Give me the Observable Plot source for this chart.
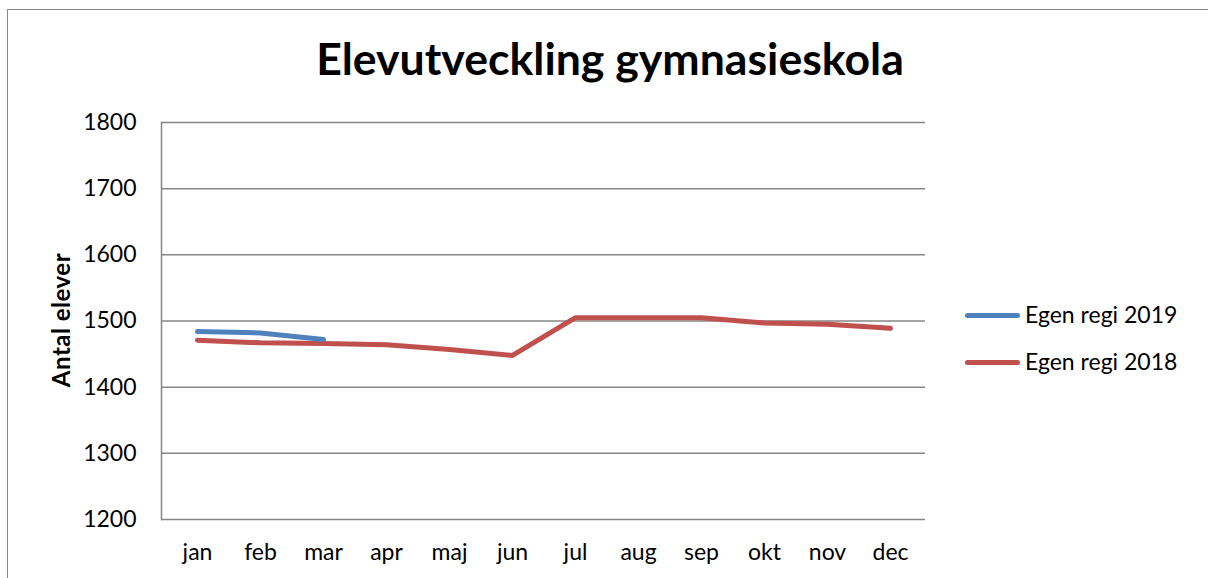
<!DOCTYPE html>
<html>
<head>
<meta charset="utf-8">
<script src="https://cdn.jsdelivr.net/npm/d3@7"></script>
<script src="https://cdn.jsdelivr.net/npm/@observablehq/plot@0.6"></script>
<style>
  html, body { margin: 0; padding: 0; background: #fff; overflow: hidden; }
  #wrap { position: relative; width: 1208px; height: 578px; font-family: Lato, "Open Sans", sans-serif; }
  #border { position: absolute; left: 7px; top: 9px; width: 1210px; height: 600px; border: 1.5px solid #878787; box-sizing: border-box; pointer-events: none; }
  #title { position: absolute; left: 0; width: 1220px; top: 36px; text-align: center; font-weight: 700; font-size: 44.6px; color: #000; line-height: 1; }
  #ylabel { position: absolute; left: 61px; top: 320px; transform: translate(-50%, -50%) rotate(-90deg); font-weight: 700; font-size: 24px; letter-spacing: 0.5px; white-space: nowrap; color: #000; line-height: 1; }
  #legend { position: absolute; left: 965px; top: 300px; font-size: 23px; color: #000; }
  .item { position: relative; height: 47px; display: flex; align-items: flex-start; }
  .swatch { width: 55px; height: 5px; border-radius: 3px; margin-top: 13px; margin-right: 5px; }
  #chart { position: absolute; left: 0; top: 0; }
</style>
</head>
<body>
<div id="wrap">
  <div id="chart"></div>
  <div id="border"></div>
  <div id="title"></div>
  <div id="ylabel"></div>
  <div id="legend"></div>
</div>
<script>
const titleText = "Elevutveckling gymnasieskola";
const yLabel = "Antal elever";
const months = ["jan","feb","mar","apr","maj","jun","jul","aug","sep","okt","nov","dec"];
const seriesNames = ["Egen regi 2019", "Egen regi 2018"];
const seriesColors = ["#4F81BD", "#C0504D"];
const values2019 = [1484, 1482, 1472];
const values2018 = [1471, 1467, 1466, 1464, 1457, 1448, 1505, 1505, 1505, 1497, 1495, 1489];
const yTicks = [1200, 1300, 1400, 1500, 1600, 1700, 1800];

const data = [];
values2018.forEach((v, i) => data.push({series: seriesNames[1], month: months[i], value: v}));
values2019.forEach((v, i) => data.push({series: seriesNames[0], month: months[i], value: v}));

document.getElementById("title").textContent = titleText;
document.getElementById("ylabel").textContent = yLabel;
const legend = document.getElementById("legend");
seriesNames.forEach((name, i) => {
  const item = document.createElement("div");
  item.className = "item";
  const sw = document.createElement("span");
  sw.className = "swatch";
  sw.style.background = seriesColors[i];
  const lab = document.createElement("span");
  lab.textContent = name;
  item.appendChild(sw);
  item.appendChild(lab);
  legend.appendChild(item);
});

const plot = Plot.plot({
  width: 1208,
  height: 578,
  marginLeft: 161,
  marginRight: 283,
  marginTop: 122,
  marginBottom: 59,
  style: { fontFamily: "Lato, 'Open Sans', sans-serif", fontSize: "22px", color: "#000", background: "transparent" },
  x: { type: "point", domain: months, padding: 0.5, label: null },
  y: { domain: [1200, 1800], label: null },
  color: { domain: seriesNames, range: seriesColors },
  marks: [
    Plot.ruleY(yTicks, { stroke: "#868686", strokeWidth: 1.5, strokeOpacity: 1 }),
    Plot.frame({ anchor: "left", stroke: "#868686", strokeWidth: 1.5, strokeOpacity: 1 }),
    Plot.axisY({ ticks: yTicks, tickSize: 0, tickPadding: 25, fontSize: 23, tickFormat: d => String(d), label: null }),
    Plot.axisX({ tickSize: 0, tickPadding: 24, fontSize: 23, label: null }),
    Plot.line(data, { x: "month", y: "value", z: "series", stroke: "series", strokeWidth: 5, strokeLinecap: "round", strokeLinejoin: "round" })
  ]
});
document.getElementById("chart").appendChild(plot);
</script>
</body>
</html>
